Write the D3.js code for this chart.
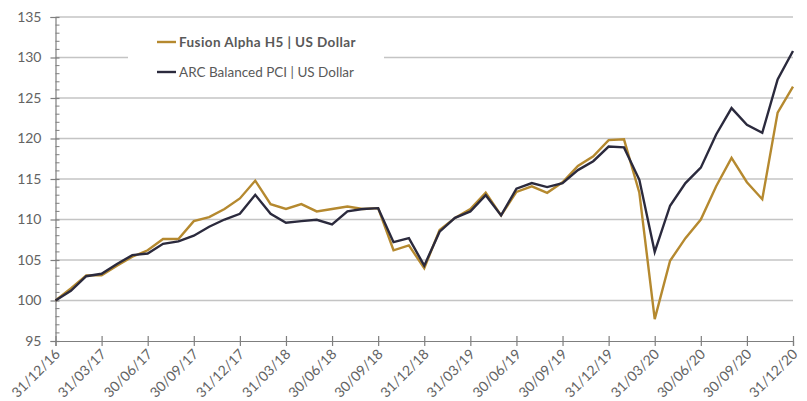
<!DOCTYPE html>
<html><head><meta charset="utf-8">
<script src="https://cdn.jsdelivr.net/npm/d3@7"></script>
<style>body{margin:0;background:#fff}svg{display:block}</style>
</head><body><svg id="c" width="807" height="401"></svg>
<script>
const tickLabels = ["31/12/16","31/03/17","30/06/17","30/09/17","31/12/17","31/03/18","30/06/18","30/09/18","31/12/18","31/03/19","30/06/19","30/09/19","31/12/19","31/03/20","30/06/20","30/09/20","31/12/20"];
const seriesNames = ["Fusion Alpha H5 | US Dollar","ARC Balanced PCI | US Dollar"];
const fusion = [100,101.5,103.1,103.1,104.3,105.4,106.2,107.6,107.6,109.8,110.3,111.3,112.6,114.8,111.9,111.3,111.9,111.0,111.3,111.6,111.3,111.4,106.2,106.8,104.0,108.7,110.2,111.3,113.3,110.5,113.4,114.1,113.3,114.6,116.6,117.8,119.8,119.9,113.3,97.7,104.9,107.7,110.0,114.1,117.6,114.6,112.5,123.2,126.4];
const arc = [100,101.2,103.0,103.3,104.5,105.6,105.8,107.0,107.3,108.0,109.1,110.0,110.7,113.05,110.7,109.6,109.8,109.96,109.4,111.0,111.3,111.4,107.2,107.7,104.3,108.5,110.2,111.0,113.0,110.5,113.8,114.5,114.0,114.5,116.1,117.2,119.0,118.9,114.9,106.0,111.7,114.5,116.4,120.5,123.75,121.7,120.7,127.3,130.8];
const yTicks = [95,100,105,110,115,120,125,130,135];

const colors = ["#B5892F","#2B2A3D"];
const svg = d3.select("#c");
const font = "Lato, 'Open Sans', sans-serif";
const x = d3.scaleLinear().domain([0, fusion.length-1]).range([55.5, 793]);
const y = d3.scaleLinear().domain([95,135]).range([341, 17]);

// gridlines
svg.append("g").selectAll("line").data(yTicks.filter(v=>v>95)).join("line")
  .attr("x1",55.5).attr("x2",793).attr("y1",d=>y(d)).attr("y2",d=>y(d))
  .attr("stroke","#c4c4c4").attr("stroke-width",1.5);

// y axis
const yAxis = svg.append("g").attr("transform","translate(55.5,0)")
  .call(d3.axisLeft(y).tickValues(yTicks).tickSize(5).tickPadding(9).tickFormat(d3.format("d")));
yAxis.select(".domain").attr("stroke","#7f7f7f").attr("stroke-width",1.2);
yAxis.selectAll(".tick line").attr("stroke","#7f7f7f").attr("x2",4).attr("x1",-5).attr("stroke-width",1.2);
yAxis.selectAll("text").attr("font-family",font).attr("font-size",14).attr("fill","#636363");
// minor ticks
svg.append("g").selectAll("line").data(d3.range(95,136).filter(v=>v%5)).join("line")
  .attr("x1",55.5).attr("x2",59.5).attr("y1",d=>y(d)).attr("y2",d=>y(d))
  .attr("stroke","#7f7f7f").attr("stroke-width",1);

// x axis
const xt = tickLabels.map((_,i)=>i*3);
const xAxis = svg.append("g").attr("transform","translate(0,341)")
  .call(d3.axisBottom(x).tickValues(xt).tickSize(5).tickFormat((d,i)=>tickLabels[i]));
xAxis.select(".domain").attr("stroke","#7f7f7f").attr("stroke-width",1.2);
xAxis.selectAll(".tick line").attr("stroke","#7f7f7f").attr("y1",-5).attr("y2",5).attr("stroke-width",1.2);
xAxis.selectAll("text").attr("font-family",font).attr("font-size",14).attr("fill","#636363")
  .attr("text-anchor","end").attr("dy",0).attr("y",0)
  .attr("transform","translate(5,14) rotate(-45)");

// legend background
svg.append("rect").attr("x",128).attr("y",24).attr("width",256).attr("height",66).attr("fill","#fff");

// lines
const line = d3.line().x((d,i)=>x(i)).y(d=>y(d));
[fusion, arc].forEach((s,k)=>{
  svg.append("path").datum(s).attr("d",line).attr("fill","none")
    .attr("stroke",colors[k]).attr("stroke-width",2.4).attr("stroke-linejoin","miter");
});

// legend
const lg = svg.append("g");
seriesNames.forEach((n,k)=>{
  const yy = 42 + k*30;
  lg.append("line").attr("x1",157).attr("x2",176).attr("y1",yy).attr("y2",yy)
    .attr("stroke",colors[k]).attr("stroke-width",2.4);
  lg.append("text").attr("x",179).attr("y",yy).attr("dy","0.35em")
    .attr("font-family",font).attr("font-size",13.5).attr("font-weight",k===0?"bold":"normal")
    .attr("letter-spacing",k===0?0.4:0)
    .attr("fill","#595959").text(n);
});
</script></body></html>
